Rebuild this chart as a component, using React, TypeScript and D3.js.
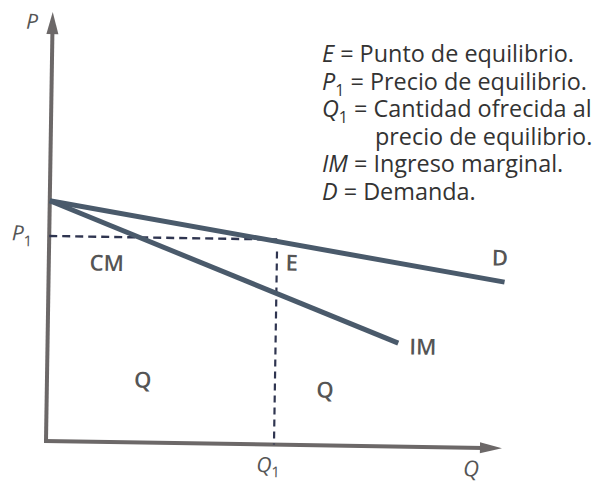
import React from 'react';
import { scaleLinear, line } from 'd3';

// quantities / prices in arbitrary units
const qDomain = [0, 10];
const pDomain = [0, 10];

const demand = [
  { q: 0, p: 5.6 },
  { q: 10, p: 3.87 },
];

const marginalRevenue = [
  { q: 0, p: 5.6 },
  { q: 7.69, p: 2.41 },
];

const equilibrium = { q: 5, p: 4.78 };

const areaLabels = [
  { text: 'D', q: 9.89, p: 4.43 },
  { text: 'IM', q: 8.23, p: 2.33 },
  { text: 'E', q: 5.33, p: 4.24 },
  { text: 'CM', q: 1.27, p: 4.17 },
  { text: 'Q', q: 2.1, p: 1.46 },
  { text: 'Q', q: 6.1, p: 1.29 },
];

const legendLines = [
  { sym: 'E', sub: '', text: ' = Punto de equilibrio.', indent: false },
  { sym: 'P', sub: '1', text: ' = Precio de equilibrio.', indent: false },
  { sym: 'Q', sub: '1', text: ' = Cantidad ofrecida al', indent: false },
  { sym: '', sub: '', text: 'precio de equilibrio.', indent: true },
  { sym: 'IM', sub: '', text: ' = Ingreso marginal.', indent: false },
  { sym: 'D', sub: '', text: ' = Demanda.', indent: false },
];

const W = 601;
const H = 483;
const font = '"Open Sans", "Noto Sans", sans-serif';

export default function App() {
  const x = scaleLinear().domain(qDomain).range([46, 502]);
  const y = scaleLinear().domain(pDomain).range([441, 12]);

  const lineFn = line<{ q: number; p: number }>()
    .x((d) => x(d.q))
    .y((d) => y(d.p));

  const x0 = x(0), y0 = y(0);
  const xEnd = x(qDomain[1]);
  const yEnd = y(pDomain[1]);

  const axisColor = '#6c6868';
  const curveColor = '#4a5a6b';
  const dashColor = '#2f3550';
  const labelColor = '#555555';

  return (
    <svg width={W} height={H} style={{ position: 'absolute', left: 0, top: 0, background: '#fff' }}>
      <g transform={`rotate(0.9, ${x0}, ${y0})`}>
        {/* axes */}
        <line x1={x0} y1={y0} x2={x0} y2={yEnd + 18} stroke={axisColor} strokeWidth={4} />
        <path d={`M${x0},${yEnd} L${x0 - 6},${yEnd + 22} L${x0 + 6},${yEnd + 22} Z`} fill={axisColor} />
        <line x1={x0 - 2} y1={y0} x2={xEnd - 18} y2={y0} stroke={axisColor} strokeWidth={4} />
        <path d={`M${xEnd},${y0} L${xEnd - 22},${y0 - 5.5} L${xEnd - 22},${y0 + 5.5} Z`} fill={axisColor} />

        {/* dashed guides */}
        <line x1={x0} y1={y(equilibrium.p)} x2={x(equilibrium.q)} y2={y(equilibrium.p)}
          stroke={dashColor} strokeWidth={2.4} strokeDasharray="8 5" />
        <line x1={x(equilibrium.q)} y1={y(4.5)} x2={x(equilibrium.q)} y2={y0}
          stroke={dashColor} strokeWidth={2.2} strokeDasharray="7 5" />

        {/* curves */}
        <path d={lineFn(marginalRevenue) || ''} fill="none" stroke={curveColor} strokeWidth={5} />
        <path d={lineFn(demand) || ''} fill="none" stroke={curveColor} strokeWidth={5} />

        {areaLabels.map((l, i) => (
          <text key={i} x={x(l.q)} y={y(l.p)} dy="0.35em" textAnchor="middle"
            fontFamily={font} fontWeight={600} fontSize={22} fill={labelColor}>
            {l.text}
          </text>
        ))}

        {/* axis labels */}
        <text x={x(-0.45)} y={y(9.77)} dy="0.35em" textAnchor="middle" fontFamily={font}
          fontStyle="italic" fontSize={21} fill={labelColor}>P</text>
        <text x={x(-0.82)} y={y(4.84)} dy="0.35em" fontFamily={font}
          fontStyle="italic" fontSize={21} fill={labelColor}>
          P<tspan fontStyle="normal" fontSize={15} dy={6}>1</tspan>
        </text>
        <text x={x(4.88)} y={y(-0.5)} dy="0.3em" textAnchor="middle" fontFamily={font}
          fontStyle="italic" fontSize={21} fill={labelColor}>
          Q<tspan fontStyle="normal" fontSize={15} dy={5}>1</tspan>
        </text>
        <text x={x(9.33)} y={y(-0.5)} dy="0.33em" textAnchor="middle" fontFamily={font}
          fontStyle="italic" fontSize={22} fill={labelColor}>Q</text>
      </g>

      {/* legend */}
      {legendLines.map((l, i) => (
        <text key={i} x={l.indent ? 375 : 322} y={62 + i * 27.6} fontFamily={font}
          fontSize={23.4} fill="#333">
          {l.sym && <tspan fontStyle="italic">{l.sym}</tspan>}
          {l.sub && <tspan fontSize={16} dy={6}>{l.sub}</tspan>}
          <tspan dy={l.sub ? -6 : 0}>{l.text}</tspan>
        </text>
      ))}
    </svg>
  );
}
